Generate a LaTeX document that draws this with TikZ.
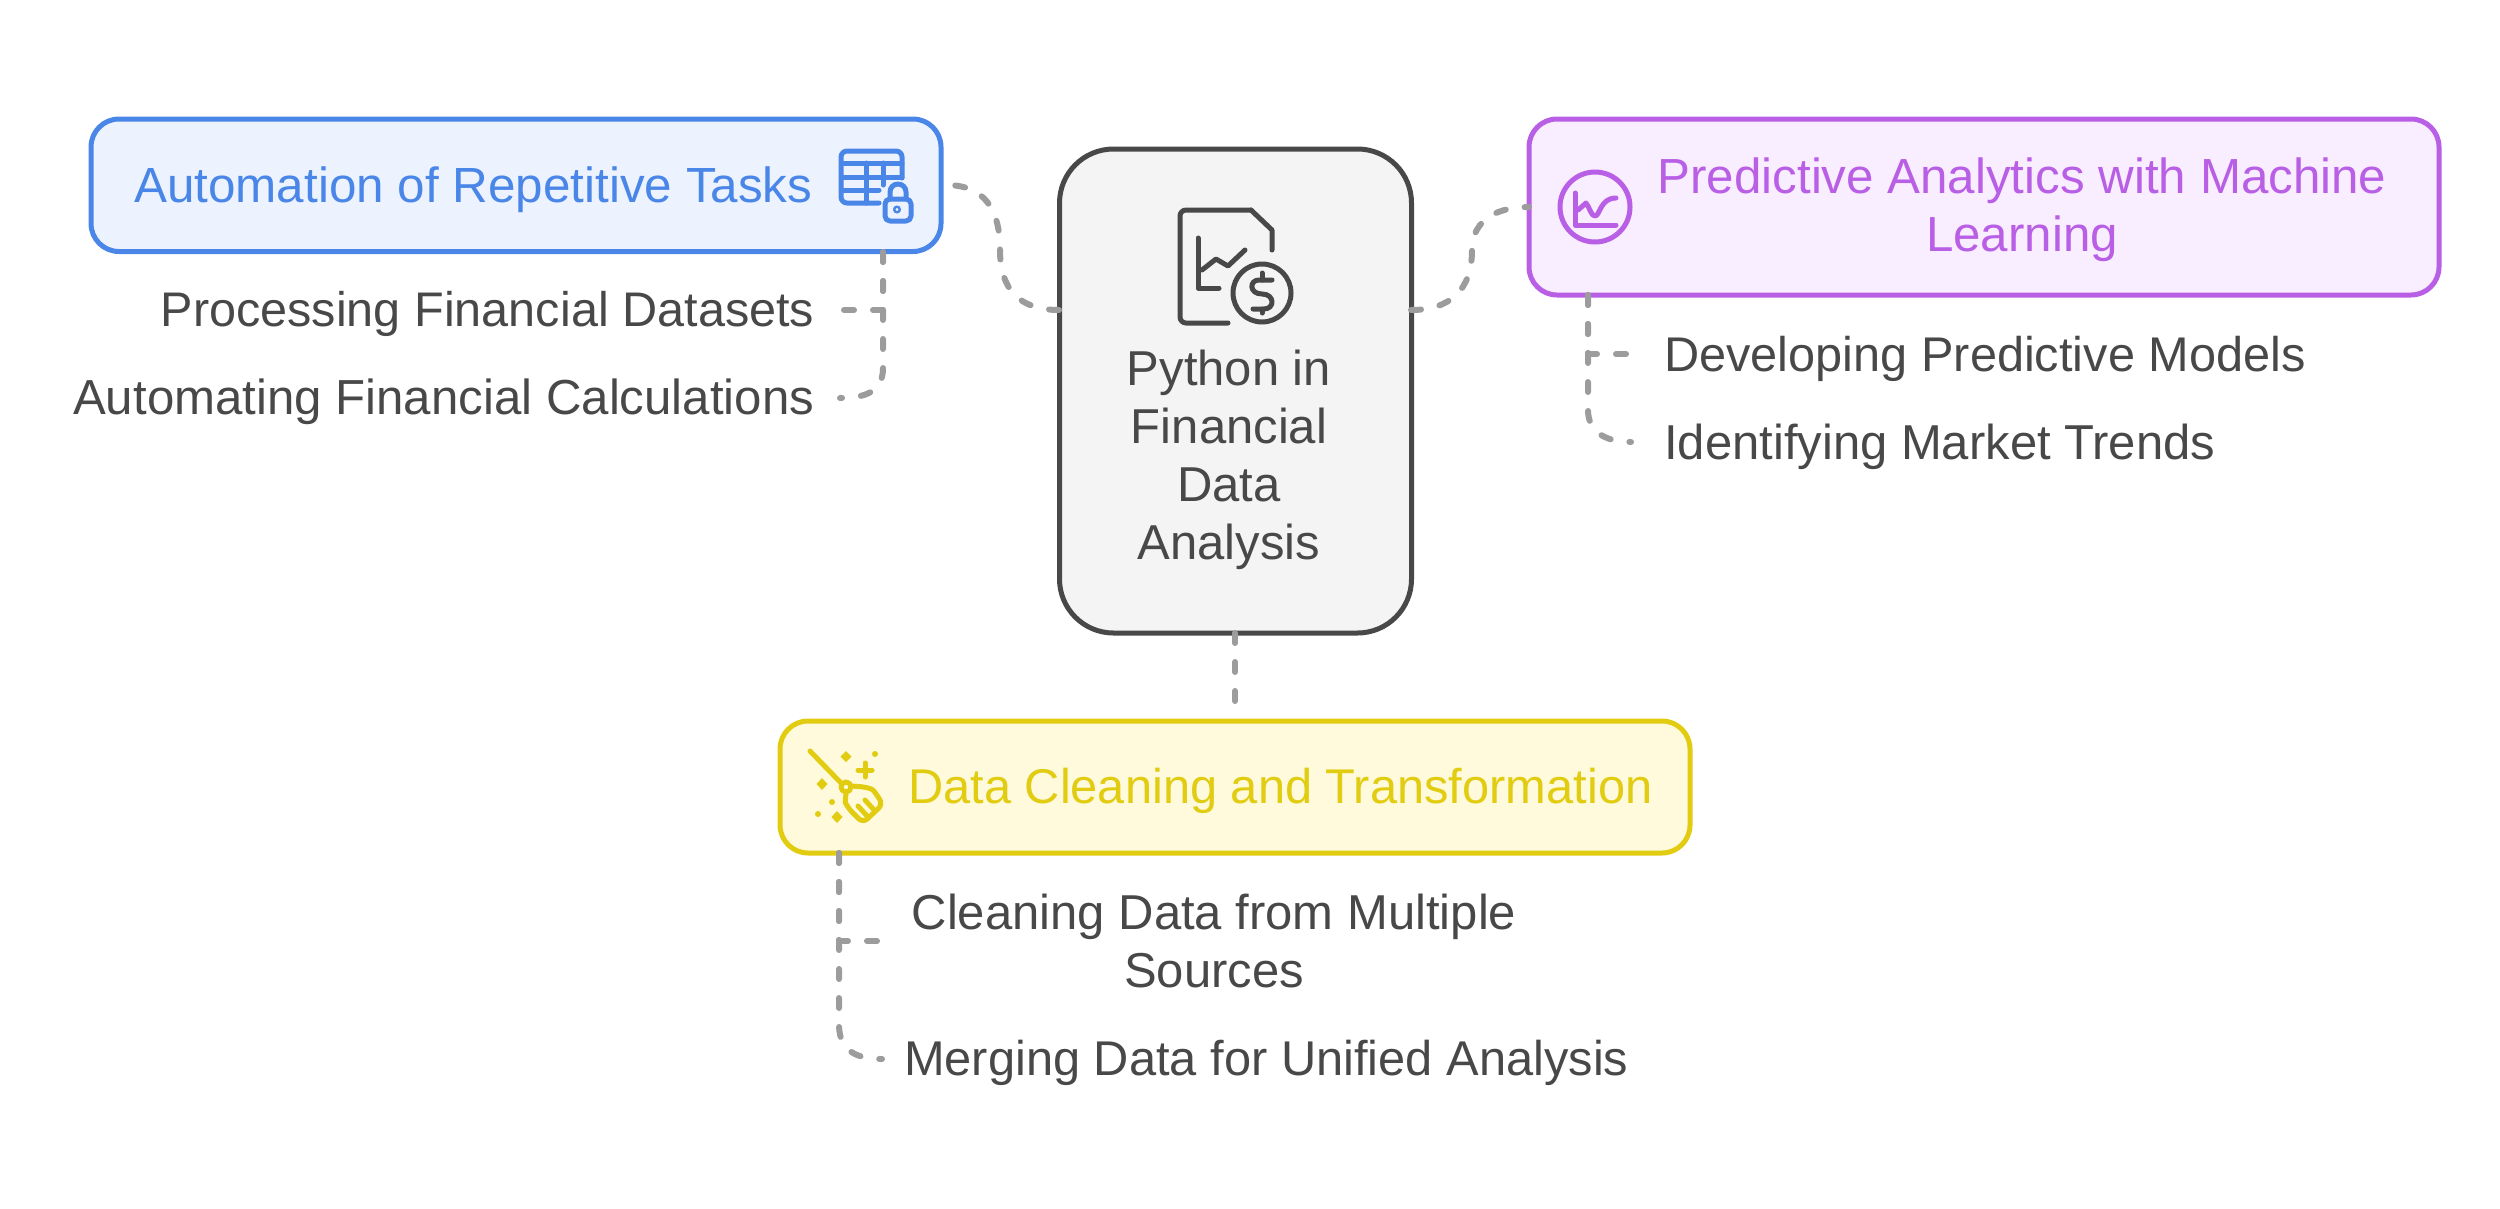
\documentclass[tikz,border=0pt]{standalone}
\usepackage{fontspec}
\setmainfont{Liberation Sans}
\definecolor{cblue}{HTML}{4A86E8}
\definecolor{fblue}{HTML}{ECF3FE}
\definecolor{cpurple}{HTML}{B95FE5}
\definecolor{fpurple}{HTML}{F9EEFF}
\definecolor{cyellow}{HTML}{E2CC12}
\definecolor{fyellow}{HTML}{FFFADB}
\definecolor{cdark}{HTML}{484848}
\definecolor{fdark}{HTML}{F4F4F4}
\definecolor{clink}{HTML}{9C9C9C}
\tikzset{
  box/.style={draw=#1,line width=5pt,rounded corners=28pt,inner sep=0pt,outer sep=0pt,anchor=north west},
  link/.style={draw=clink,line width=6pt,line cap=round,dash pattern=on 10pt off 19pt},
  txt/.style={font=\fontsize{49}{58}\selectfont,inner sep=0pt,text=cdark,align=center},
  ico/.style={line width=5pt,line cap=round,line join=round},
}
\begin{document}
\begin{tikzpicture}[x=1pt,y=-1pt]
\path[use as bounding box] (0,0) rectangle (2500,1208);
% connector ends
\coordinate (hubB) at (1235,633);
\coordinate (yelT) at (1235,712);
% boxes
\node[box=cblue,fill=fblue,minimum width=850pt,minimum height=132.5pt] (blue) at (91,119) {};
\node[box=cdark,fill=fdark,minimum width=352pt,minimum height=484pt,rounded corners=54pt] (hub) at (1059.5,149) {};
\node[box=cpurple,fill=fpurple,minimum width=910pt,minimum height=176pt] (purple) at (1529,119) {};
\node[box=cyellow,fill=fyellow,minimum width=910pt,minimum height=132pt] (yellow) at (780,721) {};
% labels
\node[txt,text=cblue,anchor=base west,font=\fontsize{49.4}{58}\selectfont] (tblue) at (134,202) {Automation of Repetitive Tasks};
\node[txt,text=cpurple,anchor=center,font=\fontsize{49.3}{58}\selectfont] (tpurple) at (2022,210) {Predictive Analytics with Machine\\Learning};
\node[txt,text=cyellow,anchor=base west,font=\fontsize{48.8}{58}\selectfont] (tyellow) at (908,803) {Data Cleaning and Transformation};
\node[txt,anchor=center] (thub) at (1229,460) {Python in\\Financial\\Data\\Analysis};
\node[txt,anchor=base east,font=\fontsize{48.6}{58}\selectfont] (a1) at (814.5,326) {Processing Financial Datasets};
\node[txt,anchor=base east,font=\fontsize{49.2}{58}\selectfont] (a2) at (814.5,414) {Automating Financial Calculations};
\node[txt,anchor=base west,font=\fontsize{48.7}{58}\selectfont] (p1) at (1664,371) {Developing Predictive Models};
\node[txt,anchor=base west,font=\fontsize{49}{58}\selectfont] (p2) at (1664,459) {Identifying Market Trends};
\node[txt,anchor=center] (y1) at (1214,941) {Cleaning Data from Multiple\\Sources};
\node[txt,anchor=base west,font=\fontsize{48.8}{58}\selectfont] (y2) at (904,1075) {Merging Data for Unified Analysis};
% connector ends
\coordinate (hubL) at (1059,310);
\coordinate (hubR) at (1411,310);
\coordinate (bluR) at (946,185);
\coordinate (purL) at (1529,207);
\coordinate (bluB) at (883,252);
\coordinate (purB) at (1588,295);
\coordinate (yelB) at (839,853);
\coordinate (a1e) at (840,310);
\coordinate (a2e) at (840,398);
\coordinate (p1e) at (1631,354);
\coordinate (p2e) at (1631,442);
\coordinate (y1e) at (882,941);
\coordinate (y2e) at (882,1059);
% connectors
\draw[link] (hubL) .. controls (1020,310) and (1000,290) .. (1000,250) .. controls (1000,210) and (985,185) .. (bluR);
\draw[link] (hubR) .. controls (1450,310) and (1472,290) .. (1472,250) .. controls (1472,225) and (1490,207) .. (purL);
\draw[link] (hubB) -- (yelT);
\draw[link] (bluB) -- (883,310) -- (a1e);
\draw[link] (bluB) -- (883,368) .. controls (883,390) and (868,398) .. (a2e);
\draw[link] (purB) -- (1588,354) -- (p1e);
\draw[link] (purB) -- (1588,410) .. controls (1588,430) and (1603,442) .. (p2e);
\draw[link] (yelB) -- (839,941) -- (y1e);
\draw[link] (yelB) -- (839,1024) .. controls (839,1046) and (850,1059) .. (y2e);
% icon: table with lock
\begin{scope}[ico,draw=cblue]
\draw[rounded corners=6pt] (902,178) -- (902,151) -- (841,151) -- (841,203) -- (879,203);
\draw (843,163) -- (902,163);
\draw (843,177) -- (902,177);
\draw (843,190) -- (879,190);
\draw (866,163) -- (866,203);
\draw (883,163) -- (883,185);
\draw[rounded corners=5pt] (885,199) rectangle (911,221);
\draw (890,199) -- (890,192) arc[start angle=180,end angle=360,radius=8] -- (906,199);
\draw[line width=2.4pt] (897,209.5) circle[radius=2.8];
\end{scope}
% icon: broom
\begin{scope}[ico,draw=cyellow]
\draw (810,751) -- (841,783);
\draw (846,787) circle[radius=5];
\draw[rounded corners=6pt] (851,786) -- (866,787) .. controls (874,790) and (878,797) .. (883,804) -- (863,823) -- (848,808) .. controls (845,802) and (846,795) .. (846,792);
\draw (858,806) -- (868,817);
\draw (865,800) -- (875,811);
\fill[cyellow,draw=none] (846,751) -- (851.5,756.5) -- (846,762) -- (840.5,756.5) -- cycle;
\fill[cyellow,draw=none] (822,778) -- (827.5,784) -- (822,790) -- (816.5,784) -- cycle;
\fill[cyellow,draw=none] (837,811) -- (842.5,817) -- (837,823) -- (831.5,817) -- cycle;
\draw (865,763) -- (865,777);
\draw (858,770) -- (872,770);
\fill[cyellow,draw=none] (875,754) circle[radius=3];
\fill[cyellow,draw=none] (832,802) circle[radius=3];
\fill[cyellow,draw=none] (818,814) circle[radius=3];
\end{scope}
% icon: chart in circle
\begin{scope}[ico,draw=cpurple]
\draw (1595,207) circle[radius=35];
\draw (1575,193) -- (1575,225) -- (1616,225);
\draw (1578,210) -- (1586,203) .. controls (1590,208) and (1591,216) .. (1595,216) .. controls (1600,216) and (1600,198) .. (1616,198);
\end{scope}
% icon: document with chart and dollar
\begin{scope}[ico,draw=cdark]
\draw[rounded corners=6pt] (1228,323) -- (1180,323) -- (1180,210) -- (1251,210);
\draw (1251,210) -- (1272,230) -- (1272,250);
\draw (1198,238) -- (1198,288) -- (1219,288);
\draw (1202,270) -- (1216,259) -- (1228,266) -- (1245,250);
\draw (1262,293) circle[radius=29];
\draw (1262,273) -- (1262,280);
\draw (1262,309) -- (1262,313);
\draw (1272,280) -- (1259,280) .. controls (1249,280) and (1249,294) .. (1262,294) .. controls (1275,294) and (1275,309) .. (1264,309) -- (1253,309);
\end{scope}
\end{tikzpicture}
\end{document}
